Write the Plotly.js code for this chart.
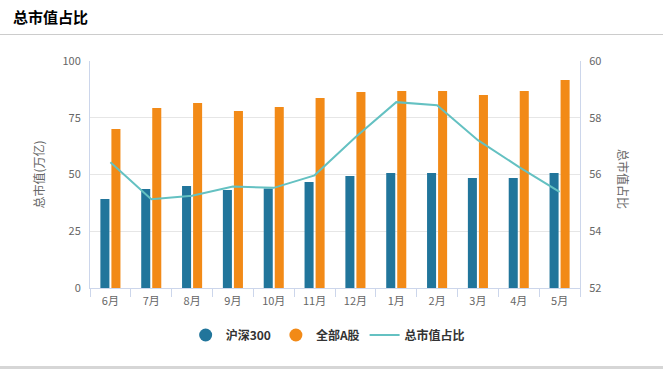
<!DOCTYPE html>
<html>
<head>
<meta charset="utf-8">
<script src="https://cdn.plot.ly/plotly-3.0.1.min.js"></script>
<style>
  html,body{margin:0;padding:0;background:#fff;}
  #wrap{position:relative;width:663px;height:369px;overflow:hidden;}
  #chart{position:absolute;left:0;top:0;width:663px;height:369px;}
  .sep{position:absolute;left:0;width:663px;height:1px;background:#cccccc;top:34px;}
  .bot{position:absolute;left:0;width:663px;height:3px;background:#d6d6d6;top:366px;}
</style>
</head>
<body>
<div id="wrap">
  <div id="chart"></div>
  <div class="sep"></div>
  <div class="bot"></div>
</div>
<script>
const months = ['6月','7月','8月','9月','10月','11月','12月','1月','2月','3月','4月','5月'];
const hs300 = [39.2, 43.6, 44.9, 43.2, 43.8, 46.7, 49.3, 50.7, 50.7, 48.5, 48.5, 50.7];
const allA  = [70.0, 79.3, 81.5, 78.0, 79.7, 83.7, 86.3, 86.8, 86.8, 85.0, 86.8, 91.6];
const ratio = [56.43, 55.13, 55.25, 55.58, 55.53, 55.97, 57.31, 58.55, 58.44, 57.21, 56.27, 55.39];

const blue = '#21759b', orange = '#f28a17', teal = '#64c1c2';
const font = '"Noto Sans CJK SC", "Noto Sans", sans-serif';

const traces = [
  {type:'bar', name:'沪深300', x:months, y:hs300, marker:{color:blue}, showlegend:false, hoverinfo:'none'},
  {type:'bar', name:'全部A股', x:months, y:allA, marker:{color:orange}, showlegend:false, hoverinfo:'none'},
  {type:'scatter', mode:'lines', name:'总市值占比', x:months, y:ratio, yaxis:'y2',
   line:{color:teal, width:2}, showlegend:false, hoverinfo:'none'},
  {type:'scatter', mode:'markers', name:'沪深300', x:[null], y:[null], marker:{color:blue, size:13, symbol:'circle'}},
  {type:'scatter', mode:'markers', name:'全部A股', x:[null], y:[null], marker:{color:orange, size:13, symbol:'circle'}},
  {type:'scatter', mode:'lines', name:'总市值占比', x:[null], y:[null], line:{color:teal, width:2}}
];

const layout = {
  width:663, height:369,
  margin:{l:90, r:83, t:61, b:81},
  paper_bgcolor:'#fff', plot_bgcolor:'#fff',
  font:{family:font, color:'#666', size:11},
  title:{text:'<b>总市值占比</b>', x:13/663, xanchor:'left', xref:'container',
         y:1-18/369, yanchor:'middle', yref:'container',
         font:{family:font, size:15, color:'#000'}},
  barmode:'group', bargap:0.46, bargroupgap:0.18,
  xaxis:{type:'category', showline:true, linecolor:'#ccd6eb', linewidth:1,
         ticks:'outside', tickson:'boundaries', ticklen:8, tickcolor:'#ccd6eb',
         showgrid:false, tickfont:{size:11, color:'#666'}, ticklabelstandoff:3, fixedrange:true},
  yaxis:{range:[0,100], dtick:25, showgrid:true, gridcolor:'#e6e6e6', zeroline:false,
         showline:true, linecolor:'#ccd6eb', tickfont:{size:11, color:'#666'}, ticklabelstandoff:6},
  yaxis2:{overlaying:'y', side:'right', range:[52,60], dtick:2, showgrid:false, zeroline:false,
          showline:true, linecolor:'#ccd6eb', tickfont:{size:11, color:'#666'}, ticklabelstandoff:6},
  legend:{orientation:'h', x:0.485, xanchor:'center', y:(288-335)/227, yanchor:'middle',
          font:{family:font, size:12, color:'#333', weight:'bold'}, itemwidth:30},
  annotations:[
    {text:'总市值(万亿)', xref:'paper', yref:'paper', x:(38-90)/490, y:0.5, textangle:-90,
     showarrow:false, font:{size:12, color:'#666'}, xanchor:'center', yanchor:'middle'},
    {text:'总市值占比', xref:'paper', yref:'paper', x:(624-90)/490, y:0.48, textangle:90,
     showarrow:false, font:{size:12, color:'#666'}, xanchor:'center', yanchor:'middle'}
  ]
};

Plotly.newPlot('chart', traces, layout, {displayModeBar:false, staticPlot:true});
</script>
</body>
</html>
